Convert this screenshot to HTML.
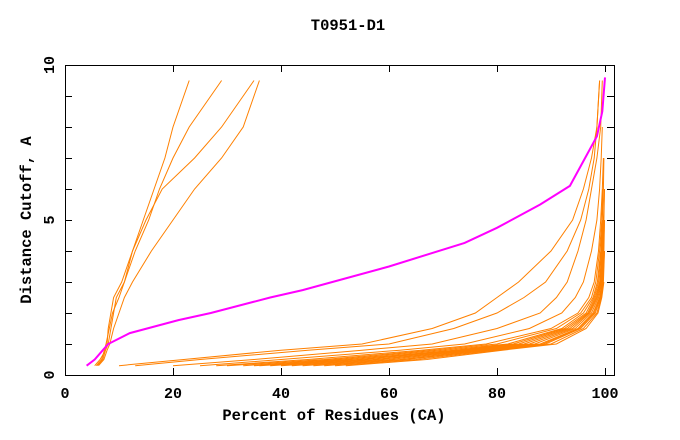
<!DOCTYPE html>
<html><head><meta charset="utf-8"><style>
html,body{margin:0;padding:0;background:#fff;}
svg{display:block;font-family:"Liberation Mono",monospace;}
</style></head><body>
<svg id="chart" width="680" height="440">
<text x="348" y="30" text-anchor="middle" font-size="15.5" font-weight="bold">T0951-D1</text>
<text x="334" y="420" text-anchor="middle" font-size="15.5" font-weight="bold">Percent of Residues (CA)</text>
<text transform="translate(31,220) rotate(-90)" text-anchor="middle" font-size="15.5" font-weight="bold">Distance Cutoff, A</text>
<g id="ticks"></g>
<g id="series"></g>
<rect x="65.5" y="65.5" width="549" height="310" fill="none" stroke="#000" stroke-width="1"/>
</svg>
<script>
const levels=[0.3,0.5,0.8,1.0,1.5,2.0,2.5,3.0,4.0,5.0,6.0,7.0,8.0,9.5];
const xTicks=[0,20,40,60,80,100];
const yTicks=[0,5,10];
const yMinor=[1,2,3,4,6,7,8,9];
const modelX=[4,5.5,7,8,12,21,27,38,44,60,74,80,88,93.5,96,98.5,99.5,100];
const modelY=[0.3,0.5,0.8,1.0,1.35,1.77,2.0,2.5,2.74,3.5,4.26,4.75,5.5,6.1,6.9,7.7,8.5,9.6];
const leftCurves=[
[5.5,6.5,7.5,7.8,8,8.5,9,10.5,12.5,14.5,16.5,18.5,20,23],
[6,7,7.5,8,8.5,9,9.5,11,13,15.5,17.5,20,23,29],
[5.8,6.8,7.3,7.6,8.2,8.8,10,11,12.5,15,18,24,29,35],
[6.2,7.2,7.8,8.3,9,10,11,12.5,16,20,24,29,33,36]
];
const rightCurves=[
[10,22,40,55,68,76,80,84,90,94,96,97.5,98.5,99],
[13,25,45,60,72,80,85,89,93,95.5,97,98,98.5,99],
[20,35,55,68,80,88,91,93,95,96.5,97.5,98.5,99.2,99.5],
[25,40,62,74,86,92,94.5,96,97.5,98.5,99,99.3,99.5],
[28,45,66,78,90,95,97,98,98.8,99.2,99.5,99.7],
[30,48,68,80,91,95.5,97.5,98.3,99,99.4,99.6],
[33,50,70,82,92,96,97.8,98.6,99.2,99.5,99.7,99.8],
[35,52,72,83,92.5,96.5,98,98.8,99.3,99.6],
[36,54,73,84,93,96.8,98.2,99,99.4,99.7,99.9],
[38,55,74,85,93.5,97,98.4,99.1,99.5,99.8],
[40,57,75,86,94,97.2,98.6,99.2,99.6,99.8,99.9],
[42,58,76,87,94.5,97.5,98.8,99.3,99.7,99.9],
[44,60,77,88,95,97.8,99,99.4,99.8],
[46,62,78,88.5,95.2,98,99.1,99.5,99.8,99.9],
[48,63,79,89,95.5,98.2,99.2,99.6,99.9],
[50,65,80,90,96,98.5,99.3,99.7,99.9],
[52,67,81,91,96.5,98.7,99.4,99.8]
];
const X=v=>65+v*5.4;
const Y=v=>375-v*31;
const NS='http://www.w3.org/2000/svg';
const tg=document.getElementById('ticks');
const sg=document.getElementById('series');
function mk(tag,attrs,parent){const e=document.createElementNS(NS,tag);for(const k in attrs)e.setAttribute(k,attrs[k]);parent.appendChild(e);return e;}
xTicks.forEach(t=>{
  const l=mk('path',{d:`M${X(t)+.5},375 v-7 M${X(t)+.5},65 v7`,stroke:'#000'},tg);
  
  
  const tx=mk('text',{x:X(t),y:398,'text-anchor':'middle','font-size':'15','font-weight':'bold'},tg);
  tx.textContent=t;
  
  
});
yTicks.concat(yMinor).forEach(t=>{
  const l=mk('path',{d:`M65,${Y(t)+.5} h7 M614,${Y(t)+.5} h-7`,stroke:'#000'},tg);
  
  
});
yTicks.forEach(t=>{
  const tx=mk('text',{x:0,y:0,transform:`translate(54,${Y(t)}) rotate(-90)`,'text-anchor':'middle','font-size':'15','font-weight':'bold'},tg);
  tx.textContent=t;
  
  
});
function line(xs,ys,color,w,name){
  const d=xs.map((x,i)=>(i?'L':'M')+X(x).toFixed(1)+','+Y(ys[i]).toFixed(1)).join(' ');
  const p=mk('path',{d:d,fill:'none',stroke:color,'stroke-width':w},sg);
  
  
}
leftCurves.concat(rightCurves).forEach(c=>line(c,levels.slice(0,c.length),'#ff8000',1,'model-curve'));
line(modelX,modelY,'#ff00ff',2,'target-model-curve');
</script>
</body></html>
